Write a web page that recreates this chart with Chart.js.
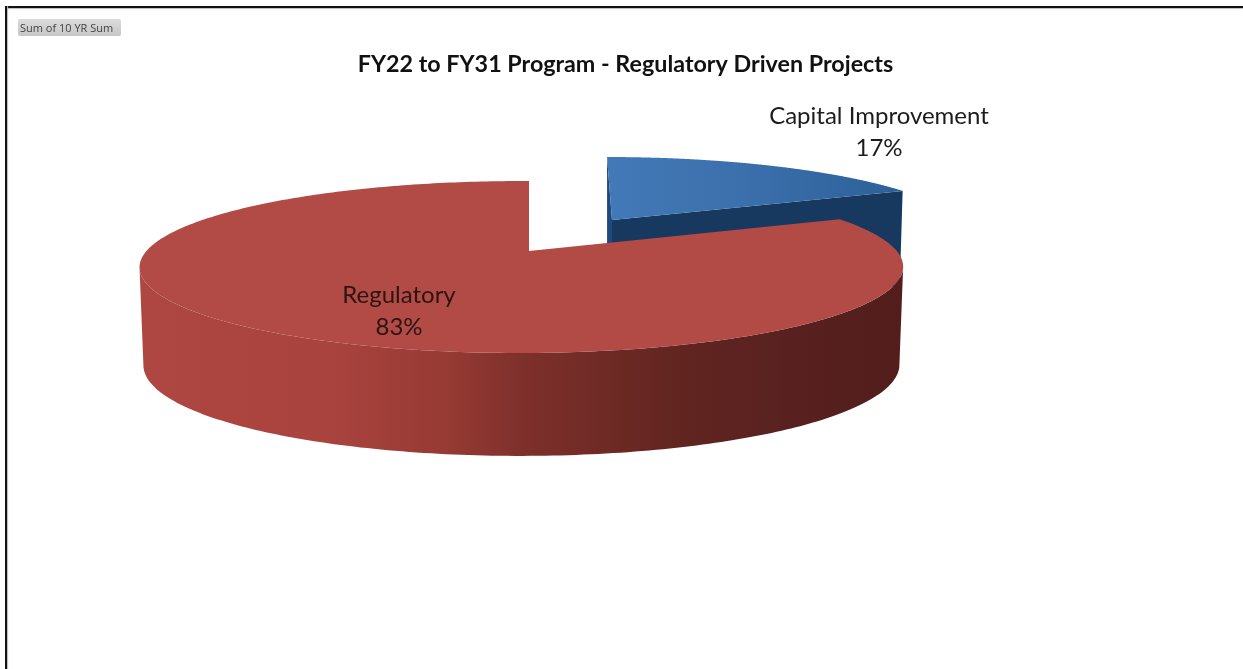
<!DOCTYPE html>
<html><head><meta charset="utf-8">
<style>
html,body{margin:0;padding:0;background:#fff;overflow:hidden}
#wrap{position:relative;width:1243px;height:669px}
canvas{position:absolute;left:0;top:0}
#frameTop{position:absolute;left:5px;right:0;top:6px;height:2px;background:#111;box-shadow:0 1px 1px #bbb}
#frameLeft{position:absolute;left:5px;top:6px;bottom:0;width:2px;background:#111;box-shadow:1px 0 1px #bbb}
#tag{position:absolute;left:18px;top:19px;width:103px;height:17px;background:linear-gradient(#dcdcdc,#c6c6c6);border-radius:2px;
 font:11px/17px "Open Sans",sans-serif;color:#444;text-align:left;text-indent:2px;filter:blur(.45px);white-space:nowrap}
</style></head><body>
<div id="wrap"><canvas id="c" width="1243" height="669"></canvas>
<div id="frameTop"></div><div id="frameLeft"></div><div id="tag">Sum of 10 YR Sum</div></div>
<script src="https://cdn.jsdelivr.net/npm/chart.js@4/dist/chart.umd.min.js"></script>
<script>
const titleText = 'FY22 to FY31 Program - Regulatory Driven Projects';
const categories = ['Capital Improvement', 'Regulatory'];
const shares = [17, 83];
const sliceColors = ['#3b70ad', '#b24a46'];

// 3D view of each slice: apex on screen + perspective disc parameters
const views = [
  {ax:612, ay:220, b:348, a:74.7, sh:5.9, m:0,     depth:97},
  {ax:529, ay:251, b:375, a:83,   sh:0,   m:.0197, depth:97}
];
const K = .186, WARP = .082, BASE_X = .99, BASE_Y = 1.058;
const labelSpots = [{x:879, y:116}, {x:399, y:295}];
const lineGap = 32;

function pt(view, theta, level) {
  const t = theta + WARP * Math.sin(2 * theta);
  const u = Math.sin(t), v = -Math.cos(t);
  const den = 1 - K * v + view.m * u;
  const sx = level ? BASE_X : 1, sy = level ? BASE_Y : 1;
  return {
    x: view.ax + sx * (view.b * u + view.sh * v) / den,
    y: view.ay + level * view.depth + sy * view.a * v / den
  };
}
function arcPts(view, t0, t1, level) {
  const out = [], n = 360;
  for (let i = 0; i <= n; i++) out.push(pt(view, t0 + (t1 - t0) * i / n, level));
  return out;
}
function poly(ctx, pts, fill) {
  ctx.beginPath();
  pts.forEach((p, i) => i ? ctx.lineTo(p.x, p.y) : ctx.moveTo(p.x, p.y));
  ctx.closePath();
  ctx.fillStyle = fill;
  ctx.fill();
}
function stops(ctx, x0, x1, list) {
  const g = ctx.createLinearGradient(x0, 0, x1, 0);
  list.forEach(([o, c]) => g.addColorStop(o, c));
  return g;
}
// Only the part of the rim between the outermost left and right points faces the viewer.
function frontRim(view, t0, t1, level) {
  const pts = arcPts(view, t0, t1, level);
  let hi = 0, lo = 0;
  pts.forEach((p, i) => { if (p.x > pts[hi].x) hi = i; if (p.x < pts[lo].x) lo = i; });
  return pts.slice(hi, lo + 1);
}

const pie3d = {
  id: 'pie3d',
  beforeDatasetsDraw(chart) {
    const ctx = chart.ctx;
    const arcs = chart.getDatasetMeta(0).data;
    const ang = e => [e.startAngle + Math.PI / 2, e.endAngle + Math.PI / 2];

    // Capital Improvement
    {
      const view = views[0], [a0, a1] = ang(arcs[0]);
      const apexT = {x: view.ax, y: view.ay}, apexB = {x: view.ax, y: view.ay + view.depth};
      poly(ctx, [apexT, pt(view, a1, 0), pt(view, a1, 1), apexB], '#17385f');
      poly(ctx, [pt(view, a0, 0), apexT, apexB, pt(view, a0, 1)], '#1d4a7c');
      poly(ctx, [apexT, ...arcPts(view, a0, a1, 0)],
        stops(ctx, 607, 902, [[0, '#4379b6'], [.45, arcs[0].options.backgroundColor], [1, '#2d6098']]));
    }
    // Regulatory
    {
      const view = views[1], [a0, a1] = ang(arcs[1]);
      poly(ctx, [...frontRim(view, a0, a1, 0), ...frontRim(view, a0, a1, 1).reverse()],
        stops(ctx, 143, 902, [[0, '#ae4641'], [.25, '#a9433e'], [.4, '#963a33'], [.5, '#7e302b'],
                              [.7, '#622520'], [.85, '#582120'], [1, '#521d1a']]));
      poly(ctx, [{x: view.ax, y: view.ay}, ...arcPts(view, a0, a1, 0)], arcs[1].options.backgroundColor);
    }
    return false;
  },
  afterDraw(chart) {
    const ctx = chart.ctx, total = shares.reduce((s, v) => s + v, 0);
    ctx.save();
    ctx.font = '400 24px Lato, sans-serif';
    ctx.textAlign = 'center';
    ctx.textBaseline = 'middle';
    categories.forEach((name, i) => {
      ctx.fillStyle = i ? '#2b1511' : '#1c1c1c';
      ctx.fillText(name, labelSpots[i].x, labelSpots[i].y);
      ctx.fillText(Math.round(shares[i] / total * 100) + '%', labelSpots[i].x, labelSpots[i].y + lineGap);
    });
    ctx.restore();
  }
};

new Chart(document.getElementById('c'), {
  type: 'pie',
  data: {labels: categories, datasets: [{data: shares, backgroundColor: sliceColors, borderWidth: 0}]},
  options: {
    responsive: false,
    animation: false,
    layout: {padding: {left: 8, top: 0}},
    plugins: {
      legend: {display: false},
      tooltip: {enabled: false},
      title: {display: true, text: titleText, color: '#111',
              font: {family: 'Lato, sans-serif', size: 23.3, weight: 'bold'},
              padding: {top: 50, bottom: 10}}
    }
  },
  plugins: [pie3d]
});
</script>
</body></html>
